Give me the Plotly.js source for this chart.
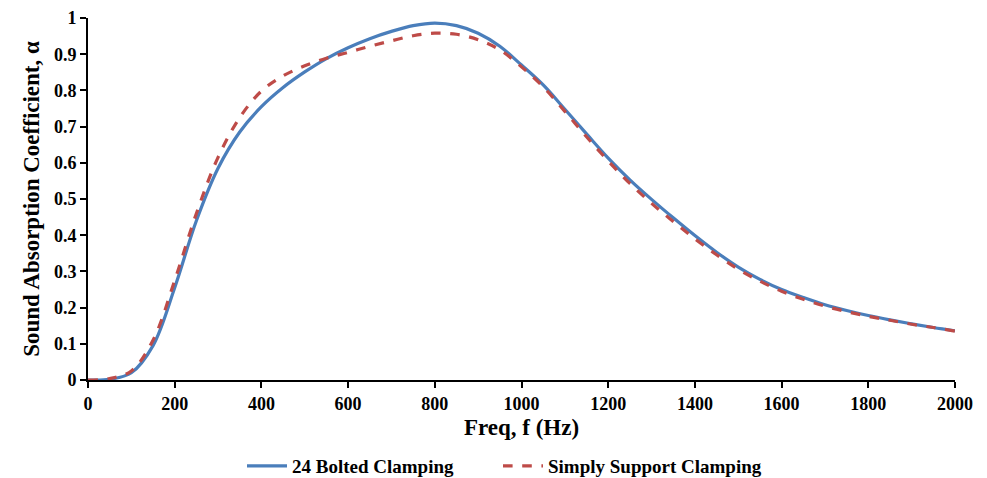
<!DOCTYPE html>
<html>
<head>
<meta charset="utf-8">
<script src="https://cdn.plot.ly/plotly-3.0.1.min.js"></script>
<style>html,body{margin:0;padding:0;background:#fff;}#chart{width:987px;height:478px;}</style>
</head>
<body>
<div id="chart"></div>
<script>
const freq = [0,50,100,150,200,250,300,350,400,450,500,550,600,650,700,750,800,850,900,950,1000,1050,1100,1150,1200,1250,1300,1350,1400,1450,1500,1550,1600,1650,1700,1750,1800,1850,1900,1950,2000];
const bolted = [0,0.002,0.02,0.095,0.255,0.44,0.585,0.685,0.755,0.808,0.851,0.888,0.918,0.943,0.963,0.979,0.986,0.979,0.958,0.922,0.87,0.815,0.748,0.68,0.613,0.553,0.499,0.448,0.399,0.353,0.312,0.278,0.25,0.228,0.208,0.192,0.178,0.166,0.155,0.145,0.136];
const simply = [0,0.004,0.025,0.11,0.275,0.46,0.615,0.725,0.798,0.84,0.868,0.889,0.905,0.922,0.937,0.951,0.958,0.955,0.94,0.912,0.865,0.81,0.742,0.672,0.605,0.543,0.488,0.438,0.39,0.346,0.306,0.273,0.245,0.223,0.204,0.189,0.176,0.165,0.154,0.145,0.135];
const seriesNames = ["24 Bolted Clamping", "Simply Support Clamping"];

const font = "Liberation Serif, Times New Roman, serif";
const legFont = {family: font, size: 19, color: "#000", weight: "bold"};
const traces = [
  {x: freq, y: bolted, name: seriesNames[0], legend: "legend", mode: "lines", line: {color: "#4A7EBB", width: 3.2, shape: "spline", smoothing: 1}},
  {x: freq, y: simply, name: seriesNames[1], legend: "legend2", mode: "lines", line: {color: "#BE4B48", width: 3.2, dash: "dash", shape: "spline", smoothing: 1}}
];
const layout = {
  width: 987, height: 478,
  margin: {l: 88, r: 32, t: 18, b: 98},
  paper_bgcolor: "#fff", plot_bgcolor: "#fff",
  font: {family: font, color: "#000", size: 18},
  showlegend: true,
  legend: {orientation: "h", x: 242/987, xanchor: "left", xref: "container", yref: "container", y: 0.025, yanchor: "middle", font: legFont, itemwidth: 40},
  legend2: {orientation: "h", x: 498/987, xanchor: "left", xref: "container", yref: "container", y: 0.025, yanchor: "middle", font: legFont, itemwidth: 40},
  xaxis: {
    range: [0, 2000], tickvals: [0,200,400,600,800,1000,1200,1400,1600,1800,2000],
    showgrid: false, zeroline: false, showline: true, linecolor: "#000", linewidth: 2,
    ticks: "outside", ticklen: 6, tickwidth: 2, tickcolor: "#000",
    tickfont: {family: font, size: 18, color: "#000", weight: "bold"},
    title: {text: "Freq, f (Hz)", font: {family: font, size: 23, color: "#000", weight: "bold"}, standoff: 6}
  },
  yaxis: {
    range: [0, 1], tickvals: [0,0.1,0.2,0.3,0.4,0.5,0.6,0.7,0.8,0.9,1], ticktext: ["0","0.1","0.2","0.3","0.4","0.5","0.6","0.7","0.8","0.9","1"],
    showgrid: false, zeroline: false, showline: true, linecolor: "#000", linewidth: 2,
    ticks: "outside", ticklen: 6, tickwidth: 2, tickcolor: "#000",
    tickfont: {family: font, size: 18, color: "#000", weight: "bold"},
    title: {text: "Sound Absorption Coefficient, α", font: {family: font, size: 23, color: "#000", weight: "bold"}, standoff: 8}
  }
};
Plotly.newPlot("chart", traces, layout, {displayModeBar: false, staticPlot: true});
</script>
</body>
</html>
